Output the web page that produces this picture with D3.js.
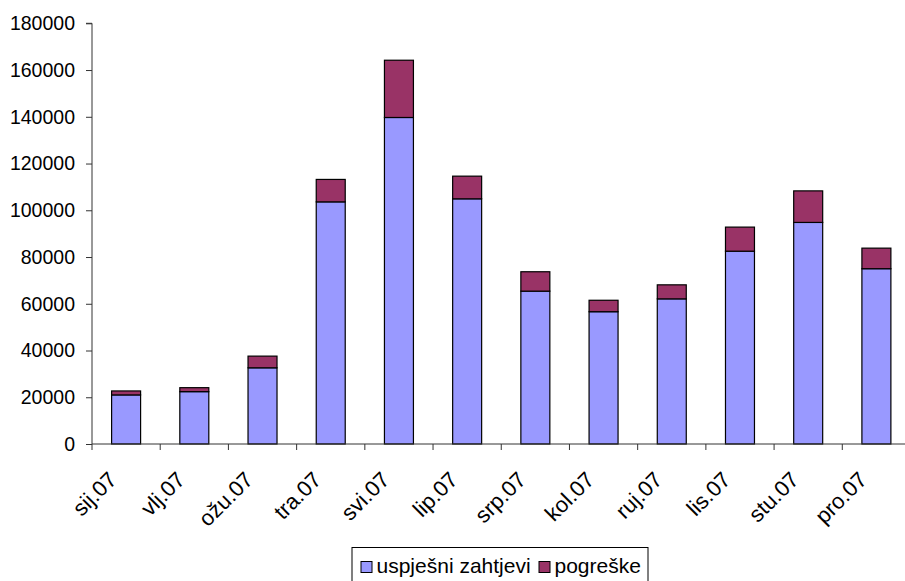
<!DOCTYPE html>
<html>
<head>
<meta charset="utf-8">
<script src="https://cdn.jsdelivr.net/npm/d3@7"></script>
<style>
  body { margin: 0; background: #fff; }
  svg { display: block; font-family: Arial, "Liberation Sans", sans-serif; }
</style>
</head>
<body>
<svg width="905" height="581"></svg>
<script>
// monthly values
var months = ["sij.07", "vlj.07", "ožu.07", "tra.07", "svi.07", "lip.07",
              "srp.07", "kol.07", "ruj.07", "lis.07", "stu.07", "pro.07"];
var uspjesni = [21000, 22400, 32600, 103600, 139700, 104900, 65400, 56600, 62100, 82500, 94800, 75000];
var pogreske = [1700, 1700, 5000, 9600, 24500, 9700, 8300, 4900, 6000, 10300, 13500, 8800];
var yTicks = [0, 20000, 40000, 60000, 80000, 100000, 120000, 140000, 160000, 180000];
var seriesNames = ["uspješni zahtjevi", "pogreške"];
var colors = ["#9999ff", "#993366"];

var svg = d3.select("svg"),
    plotLeft = 92, plotRight = 910.5, plotTop = 23.3, plotBottom = 444;

var rows = months.map(function(m, i) {
  return { month: m, a: uspjesni[i], b: pogreske[i] };
});

var layers = d3.stack().keys(["a", "b"])(rows);

var x = d3.scaleBand()
    .domain(months)
    .range([plotLeft, plotRight])
    .paddingInner(0.575)
    .paddingOuter(0.2875);

var y = d3.scaleLinear()
    .domain([0, 180000])
    .range([plotBottom, plotTop]);

// bars
svg.append("g").selectAll("g")
  .data(layers)
  .enter().append("g")
    .attr("fill", function(d, i) { return colors[i]; })
  .selectAll("rect")
  .data(function(d) { return d; })
  .enter().append("rect")
    .attr("x", function(d) { return x(d.data.month); })
    .attr("y", function(d) { return y(d[1]); })
    .attr("width", x.bandwidth())
    .attr("height", function(d) { return y(d[0]) - y(d[1]); })
    .attr("stroke", "#000")
    .attr("stroke-width", 1.2);

// y axis
var yAxis = svg.append("g")
    .attr("transform", "translate(" + plotLeft + ",0)")
    .call(d3.axisLeft(y).tickValues(yTicks).tickSize(6).tickPadding(11).tickFormat(d3.format("d")));
yAxis.selectAll("text").attr("font-size", "19.5px").attr("fill", "#000").attr("font-family", null);
yAxis.selectAll("line, path").attr("stroke", "#333");
yAxis.select(".domain").attr("d", "M0," + plotBottom + "V" + plotTop + "H-6");

// x axis with ticks between categories
var xg = svg.append("g");
xg.append("line")
    .attr("x1", plotLeft).attr("x2", plotRight)
    .attr("y1", plotBottom).attr("y2", plotBottom)
    .attr("stroke", "#333");
xg.selectAll("line.tick")
  .data(d3.range(months.length + 1))
  .enter().append("line")
    .attr("class", "tick")
    .attr("x1", function(i) { return plotLeft + i * x.step(); })
    .attr("x2", function(i) { return plotLeft + i * x.step(); })
    .attr("y1", plotBottom).attr("y2", plotBottom + 6)
    .attr("stroke", "#333");
xg.selectAll("text")
  .data(months)
  .enter().append("text")
    .attr("transform", function(d) {
      return "translate(" + (x(d) + x.bandwidth() / 2 - 8) + "," + (plotBottom + 37) + ") rotate(-45)";
    })
    .attr("text-anchor", "end")
    .attr("font-size", "22px")
    .text(function(d) { return d; });

// legend
var lg = svg.append("g");
lg.append("rect")
    .attr("x", 352).attr("y", 547.5)
    .attr("width", 296).attr("height", 40)
    .attr("fill", "#fff").attr("stroke", "#000");
var legendX = [361, 539];
seriesNames.forEach(function(name, i) {
  lg.append("rect")
      .attr("x", legendX[i]).attr("y", 561.5)
      .attr("width", 11).attr("height", 11)
      .attr("fill", colors[i]).attr("stroke", "#000");
  lg.append("text")
      .attr("x", legendX[i] + 15.5).attr("y", 573)
      .attr("font-size", "21px")
      .text(name);
});
</script>
</body>
</html>
